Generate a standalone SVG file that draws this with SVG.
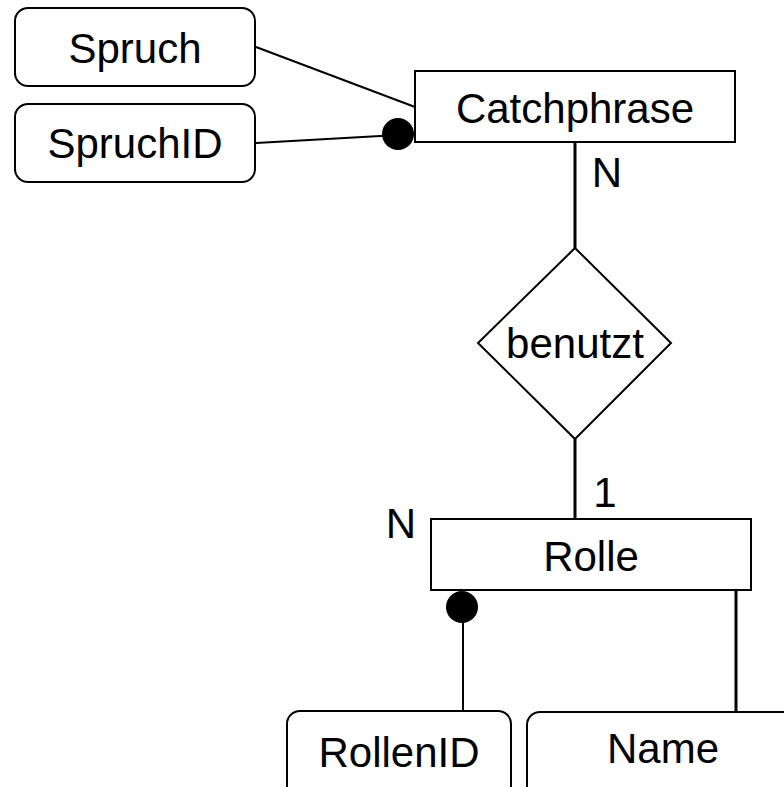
<svg xmlns="http://www.w3.org/2000/svg" width="784" height="787" viewBox="0 0 784 787">
<style>
.box{fill:#fff;stroke:#000;stroke-width:2}
.lbl{font-family:"Liberation Sans",Arial,sans-serif;font-size:42px;fill:#000;text-anchor:middle}
.ln{stroke:#000;stroke-width:2;fill:none}
.lnb{stroke:#000;stroke-width:3;fill:none}
.dot{fill:#000}
</style>
<rect width="784" height="787" fill="#fff"/>
<g id="connectors">
<line class="ln" x1="256" y1="47" x2="415" y2="107"/>
<line class="ln" x1="256" y1="143" x2="398" y2="135"/>
<circle class="dot" cx="398" cy="134" r="16"/>
<line class="lnb" x1="575" y1="142" x2="575" y2="248"/>
<line class="lnb" x1="575" y1="439" x2="575" y2="519"/>
<line class="ln" x1="463" y1="607" x2="463" y2="711"/>
<circle class="dot" cx="462" cy="607" r="16"/>
<line class="lnb" x1="736" y1="590" x2="736" y2="712"/>
<text class="lbl" x="607" y="187">N</text>
<text class="lbl" x="605" y="507">1</text>
<text class="lbl" x="401" y="538">N</text>
</g>
<g id="spruch">
<rect class="box" x="15" y="8" width="240" height="78" rx="13"/>
<text class="lbl" x="135" y="63">Spruch</text>
</g>
<g id="spruchid">
<rect class="box" x="15" y="104" width="240" height="78" rx="13"/>
<text class="lbl" x="135" y="158">SpruchID</text>
</g>
<g id="catchphrase">
<rect class="box" x="415" y="71" width="320" height="71"/>
<text class="lbl" x="575" y="123">Catchphrase</text>
</g>
<g id="benutzt">
<polygon class="box" points="575,248 671,343 575,439 478,343"/>
<text class="lbl" x="575" y="358">benutzt</text>
</g>
<g id="rolle">
<rect class="box" x="431" y="519" width="320" height="71"/>
<text class="lbl" x="591" y="571">Rolle</text>
</g>
<g id="rollenid">
<rect class="box" x="287" y="711" width="224" height="100" rx="13"/>
<text class="lbl" x="399" y="767">RollenID</text>
</g>
<g id="name">
<rect class="box" x="527" y="712" width="300" height="100" rx="13"/>
<text class="lbl" x="663" y="763">Name</text>
</g>
</svg>
